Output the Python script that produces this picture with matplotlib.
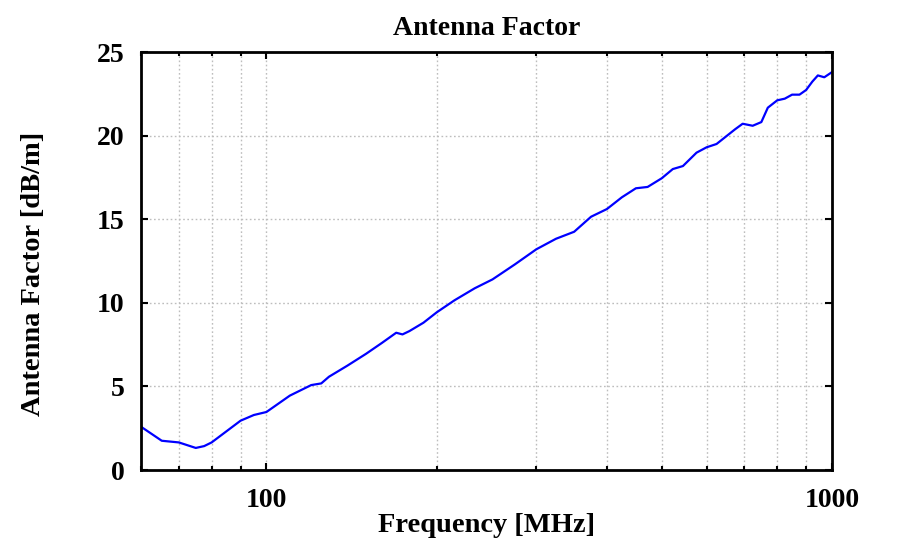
import matplotlib
matplotlib.use("Agg")
import matplotlib.pyplot as plt
from matplotlib.ticker import FixedLocator, NullFormatter

freq_mhz = [60, 65.3, 70, 75, 77.6, 80, 90, 95, 100, 110, 120, 125, 129, 139,
            150, 160, 169.6, 174, 179, 189.5, 200, 215, 233.5, 251, 275, 300,
            325, 350, 375, 400, 425, 450, 472, 500, 523, 545, 576, 600, 625,
            674, 695, 724, 750, 770, 800, 825, 850, 876, 900, 923, 944, 969, 1000]
antenna_factor = [2.59, 1.75, 1.65, 1.32, 1.43, 1.65, 2.95, 3.29, 3.47, 4.45,
                  5.08, 5.18, 5.58, 6.24, 6.95, 7.6, 8.21, 8.11, 8.31, 8.81,
                  9.43, 10.15, 10.87, 11.40, 12.3, 13.2, 13.83, 14.25, 15.15,
                  15.61, 16.31, 16.85, 16.93, 17.45, 18.0, 18.18, 18.98, 19.3,
                  19.5, 20.38, 20.71, 20.59, 20.81, 21.67, 22.11, 22.21, 22.45,
                  22.45, 22.73, 23.23, 23.6, 23.49, 23.8]

x_major = [100, 1000]
x_major_labels = ["100", "1000"]
x_minor = [60, 70, 80, 90, 200, 300, 400, 500, 600, 700, 800, 900]
y_ticks = [0, 5, 10, 15, 20, 25]

plt.rcParams['font.family'] = ['Liberation Serif', 'DejaVu Serif']
plt.rcParams['font.weight'] = 'bold'

fig = plt.figure(figsize=(9.22, 5.54), dpi=100)
ax = fig.add_axes([0.1529, 0.1516, 0.7495, 0.7545])

ax.plot(freq_mhz, antenna_factor, color='#0000ff', linewidth=1.6)
ax.set_xscale('log')
ax.set_xlim(60, 1000)
ax.set_ylim(0, 25)

ax.set_xticks(x_major)
ax.set_xticklabels(x_major_labels)
ax.xaxis.set_minor_locator(FixedLocator(x_minor))
ax.xaxis.set_minor_formatter(NullFormatter())
ax.set_yticks(y_ticks)
ax.set_yticklabels([str(v) for v in y_ticks])

grid_style = dict(linestyle=(0, (1.2, 1.8)), color='#bdbdbd', linewidth=1)
ax.grid(True, which='both', axis='x', **grid_style)
ax.grid(True, which='major', axis='y', **grid_style)

ax.tick_params(which='both', direction='in', top=True, right=True, width=1.5, labelsize=20)
ax.tick_params(which='major', length=5)
ax.tick_params(which='minor', length=3)
ax.tick_params(axis='x', pad=13)
ax.tick_params(axis='y', pad=12)
for s in ax.spines.values():
    s.set_linewidth(2)

ax.set_title("Antenna Factor", fontsize=20, fontweight='bold', pad=12)
ax.set_xlabel("Frequency [MHz]", fontsize=20.5, fontweight='bold', labelpad=0)
ax.set_ylabel("Antenna Factor [dB/m]", fontsize=20.5, fontweight='bold')
ax.yaxis.set_label_coords(-0.138, 0.47)

fig.savefig("out.png", dpi=100)
